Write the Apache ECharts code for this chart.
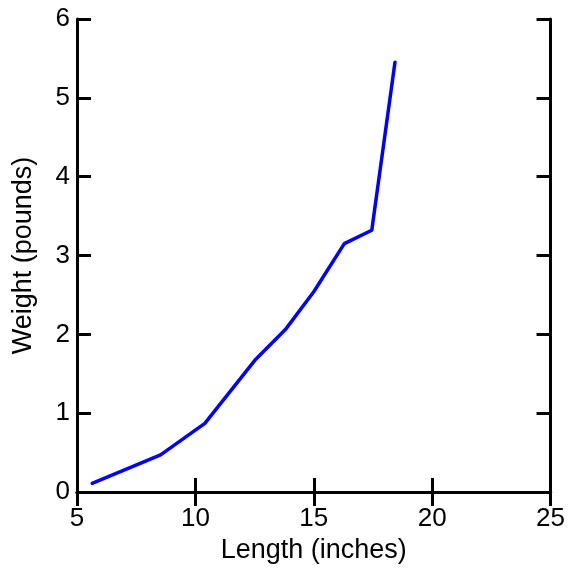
<!DOCTYPE html>
<html>
<head>
<meta charset="utf-8">
<script src="https://cdn.jsdelivr.net/npm/echarts@6/dist/echarts.min.js"></script>
<style>
html,body{margin:0;padding:0;background:#fff;}
#chart{width:568px;height:569px;}
</style>
</head>
<body>
<div id="chart"></div>
<script>
const lengthInches = [5.64, 8.53, 10.4, 12.51, 13.8, 15.0, 16.29, 17.45, 18.43];
const weightPounds = [0.11, 0.47, 0.87, 1.67, 2.06, 2.54, 3.15, 3.32, 5.45];
const xTitle = 'Length (inches)';
const yTitle = 'Weight (pounds)';

const font = '"Liberation Sans", Arial, Helvetica, sans-serif';
const frame = {show: true, lineStyle: {color: '#000', width: 3}};
const ticks = {show: true, inside: true, length: 14, lineStyle: {color: '#000', width: 3}};

const chart = echarts.init(document.getElementById('chart'), null, {renderer: 'canvas'});
chart.setOption({
  animation: false,
  backgroundColor: '#fff',
  grid: {left: 77, right: 16, top: 19, bottom: 76, containLabel: false},
  xAxis: [
    {
      type: 'value', position: 'bottom', min: 5, max: 25, interval: 5,
      name: xTitle, nameLocation: 'middle', nameGap: 45,
      nameTextStyle: {color: '#000', fontSize: 27, fontFamily: font},
      axisLine: frame, axisTick: ticks, splitLine: {show: false},
      axisLabel: {color: '#000', fontSize: 26, fontFamily: font, margin: 14}
    },
    {
      type: 'value', position: 'top', min: 5, max: 25, interval: 5,
      axisLine: frame, axisTick: ticks, splitLine: {show: false},
      axisLabel: {show: false}
    }
  ],
  yAxis: [
    {
      type: 'value', position: 'left', min: 0, max: 6, interval: 1,
      name: yTitle, nameLocation: 'middle', nameGap: 40, nameRotate: 90,
      nameTextStyle: {color: '#000', fontSize: 27, fontFamily: font},
      axisLine: frame, axisTick: ticks, splitLine: {show: false},
      axisLabel: {color: '#000', fontSize: 26, fontFamily: font, margin: 7}
    },
    {
      type: 'value', position: 'right', min: 0, max: 6, interval: 1,
      axisLine: frame, axisTick: ticks, splitLine: {show: false},
      axisLabel: {show: false}
    }
  ],
  series: [{
    type: 'line',
    xAxisIndex: 0, yAxisIndex: 0,
    data: lengthInches.map((x, i) => [x, weightPounds[i]]),
    showSymbol: false, symbol: 'none',
    lineStyle: {color: '#0000FF', width: 3.5, cap: 'round', join: 'round'}
  }]
});
</script>
</body>
</html>
